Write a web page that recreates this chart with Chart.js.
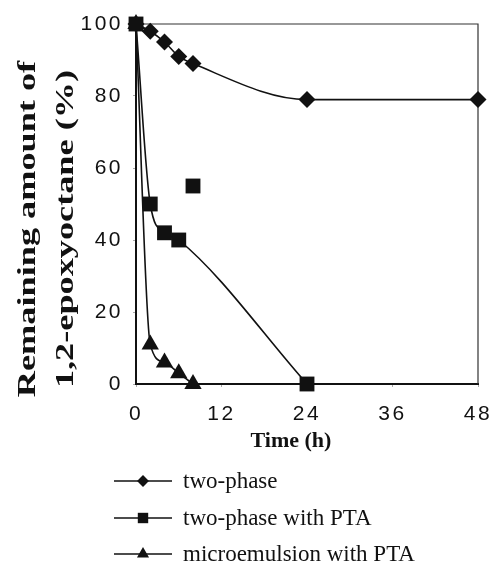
<!DOCTYPE html>
<html>
<head>
<meta charset="utf-8">
<script src="https://cdn.jsdelivr.net/npm/chart.js@4"></script>
<style>
  body { margin: 0; background: #fff; }
  #wrap { position: relative; width: 489px; height: 569px; overflow: hidden; }
  #chart { position: absolute; left: 0; top: 0; }
  .ytitle {
    position: absolute; top: 229px; white-space: nowrap;
    font: bold 25px "Liberation Serif", serif; color: #111;
    transform: translate(-50%, -50%) rotate(-90deg) scaleX(1.45);
  }
  #xtitle {
    position: absolute; left: 291px; top: 440px; white-space: nowrap;
    font: bold 22px "Liberation Serif", serif; color: #111;
    transform: translate(-50%, -50%);
  }
  .legend-row { position: absolute; left: 112px; height: 24px; display: flex; align-items: center; }
  .legend-row canvas { width: 64px; height: 24px; }
  .legend-row span { margin-left: 7px; font: 23px "Liberation Serif", serif; color: #111; white-space: nowrap; }
</style>
</head>
<body>
<div id="wrap">
  <canvas id="chart" width="489" height="569"></canvas>
  <div class="ytitle" style="left:27px">Remaining amount of</div>
  <div class="ytitle" style="left:65px">1,2-epoxyoctane (%)</div>
  <div id="xtitle">Time (h)</div>
  <div id="legend"></div>
</div>
<script>
"use strict";

// time axis (h)
const xTicks = [0, 12, 24, 36, 48];
const yTicks = [0, 20, 40, 60, 80, 100];

// two-phase
const twoPhaseHours = [0, 2, 4, 6, 8, 24, 48];
const twoPhaseValues = [100, 98, 95, 91, 89, 79, 79];

// two-phase with PTA (the 8 h point is not on the curve)
const ptaHours = [0, 2, 4, 6, 24];
const ptaValues = [100, 50, 42, 40, 0];
const ptaOutlierHours = [8];
const ptaOutlierValues = [55];

// microemulsion with PTA
const microHours = [0, 2, 4, 6, 8];
const microValues = [100, 11, 6, 3, 0];

function toPoints(xs, ys) {
    return xs.map((x, i) => ({x: x, y: ys[i]}));
}

function series(label, xs, ys, style, radius, showLine, order) {
    return {
        label: label,
        data: toPoints(xs, ys),
        showLine: showLine,
        order: order,
        clip: false,
        borderColor: "#111",
        backgroundColor: "#111",
        borderWidth: 1.6,
        pointStyle: style,
        pointRadius: radius,
        pointHoverRadius: radius,
        pointBorderWidth: 0,
        cubicInterpolationMode: "monotone",
        inLegend: showLine
    };
}

const datasets = [
    series("two-phase", twoPhaseHours, twoPhaseValues, "rectRot", 8.5, true, 2),
    series("two-phase with PTA", ptaHours, ptaValues, "rect", 10.5, true, 0),
    series("two-phase with PTA", ptaOutlierHours, ptaOutlierValues, "rect", 10.5, false, 0),
    series("microemulsion with PTA", microHours, microValues, "triangle", 10, true, 1)
];

// top and right edges of the box
const frame = {
    id: "frame",
    beforeDatasetsDraw(chart) {
        const a = chart.chartArea, ctx = chart.ctx;
        ctx.save();
        ctx.strokeStyle = "#333";
        ctx.lineWidth = 1.2;
        ctx.beginPath();
        ctx.moveTo(a.left, a.top);
        ctx.lineTo(a.right, a.top);
        ctx.lineTo(a.right, a.bottom);
        ctx.stroke();
        ctx.restore();
    },
    afterDatasetsDraw(chart) {
        // tick labels are drawn after this, spaced out like the original
        chart.ctx.letterSpacing = "2.5px";
    },
    afterDraw(chart) {
        chart.ctx.letterSpacing = "0px";
    }
};

const tickFont = {family: "Liberation Sans", size: 21};

new Chart(document.getElementById("chart"), {
    type: "scatter",
    data: {datasets: datasets},
    plugins: [frame],
    options: {
        responsive: false,
        animation: false,
        layout: {padding: {top: 24, right: 11, bottom: 0, left: 0}},
        plugins: {legend: {display: false}, tooltip: {enabled: false}},
        scales: {
            x: {
                type: "linear",
                min: 0, max: 48,
                afterBuildTicks: s => { s.ticks = xTicks.map(v => ({value: v})); },
                afterFit: s => { s.height = 185; s.paddingLeft = 0; s.paddingRight = 0; },
                grid: {drawOnChartArea: false, tickLength: 3, color: "#aaa"},
                border: {color: "#111", width: 2},
                ticks: {font: tickFont, color: "#111", padding: 15, z: 1, maxRotation: 0}
            },
            y: {
                min: 0, max: 100,
                afterBuildTicks: s => { s.ticks = yTicks.map(v => ({value: v})); },
                afterFit: s => { s.width = 136; },
                grid: {drawOnChartArea: false, tickLength: 3, color: "#aaa"},
                border: {color: "#111", width: 2},
                ticks: {font: tickFont, color: "#111", padding: 10, z: 1}
            }
        }
    }
});

// legend below the plot: line with marker, then the label
const legendTops = [469, 506, 542];
const legend = document.getElementById("legend");
datasets.filter(d => d.inLegend).forEach((d, i) => {
    const row = document.createElement("div");
    row.className = "legend-row";
    row.style.top = legendTops[i] + "px";
    const c = document.createElement("canvas");
    c.width = 64; c.height = 24;
    const ctx = c.getContext("2d");
    ctx.strokeStyle = "#111";
    ctx.lineWidth = 1.4;
    ctx.beginPath();
    ctx.moveTo(2, 12);
    ctx.lineTo(60, 12);
    ctx.stroke();
    ctx.fillStyle = "#111";
    Chart.helpers.drawPoint(ctx, {pointStyle: d.pointStyle, radius: d.pointRadius * 0.7, borderWidth: 0}, 31, 12);
    const t = document.createElement("span");
    t.textContent = d.label;
    row.appendChild(c);
    row.appendChild(t);
    legend.appendChild(row);
});
</script>
</body>
</html>
